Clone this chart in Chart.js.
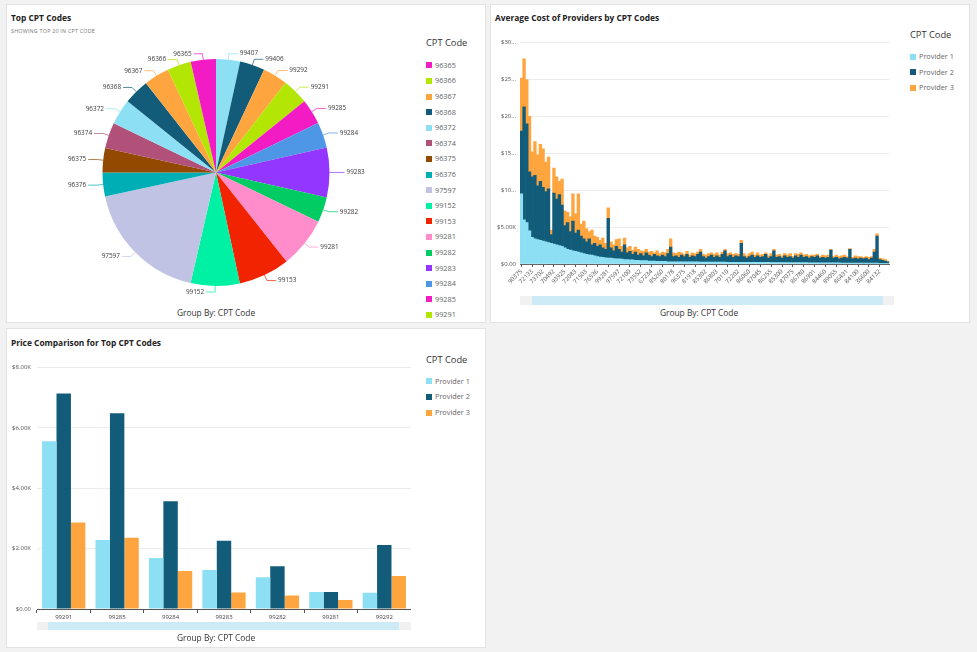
<!DOCTYPE html>
<html>
<head>
<meta charset="utf-8">
<script src="https://cdn.jsdelivr.net/npm/chart.js@4.4.1/dist/chart.umd.min.js"></script>
<style>
body{margin:0;background:#f2f2f2;font-family:'Open Sans',sans-serif;width:977px;height:652px;position:relative;overflow:hidden}
.panel{position:absolute;background:#fff;border:1px solid #e3e3e3;box-sizing:border-box}
.abs{position:absolute;white-space:nowrap}
.title{font-weight:700;font-size:8.4px;color:#222;line-height:12px}
.sub{font-size:5.4px;color:#777;line-height:7px;letter-spacing:.2px}
.lgTitle{font-size:9.3px;color:#333;line-height:12px}
.lgItem{font-size:7.3px;color:#666;height:15.6px;line-height:15.6px}
.sw{display:inline-block;width:6px;height:6px;margin-right:3px;vertical-align:-0.5px}
.groupBy{font-size:8.4px;color:#333;line-height:12px;transform:translateX(-50%)}
.track{position:absolute;background:#f1f1f1}
.thumb{position:absolute;background:#cdebf6}
canvas{position:absolute}
</style>
</head>
<body>
<div class="panel" style="left:6px;top:4px;width:480px;height:319px"></div>
<div class="panel" style="left:490px;top:4px;width:480px;height:319px"></div>
<div class="panel" style="left:6px;top:328px;width:480px;height:320px"></div>

<div class="abs title" style="left:11px;top:12px">Top CPT Codes</div>
<div class="abs sub" style="left:11px;top:28px">SHOWING TOP 20 IN CPT CODE</div>
<div class="abs title" style="left:495px;top:12px">Average Cost of Providers by CPT Codes</div>
<div class="abs title" style="left:11px;top:337px">Price Comparison for Top CPT Codes</div>

<canvas id="pieChart" width="340" height="261" style="left:46px;top:42px;width:340px;height:261px"></canvas>
<canvas id="costChart" width="402" height="259" style="left:492px;top:35px;width:402px;height:259px"></canvas>
<canvas id="priceChart" width="402" height="265" style="left:9px;top:358px;width:402px;height:265px"></canvas>

<div class="abs lgTitle" style="left:426px;top:37px">CPT Code</div>
<div id="pieLegend" class="abs" style="left:426px;top:57.9px;height:263px;overflow:hidden"></div>
<div class="abs lgTitle" style="left:910px;top:29px">CPT Code</div>
<div id="costLegend" class="abs" style="left:910px;top:49.2px"></div>
<div class="abs lgTitle" style="left:426px;top:354px">CPT Code</div>
<div id="priceLegend" class="abs" style="left:426px;top:373.9px"></div>

<div class="track" style="left:520px;top:296px;width:374px;height:9px"></div>
<div class="thumb" style="left:532px;top:296px;width:351px;height:9px"></div>
<div class="track" style="left:37px;top:622px;width:374px;height:8px"></div>
<div class="thumb" style="left:48px;top:622px;width:351px;height:8px"></div>

<div class="abs groupBy" style="left:216px;top:307px">Group By: CPT Code</div>
<div class="abs groupBy" style="left:699px;top:307px">Group By: CPT Code</div>
<div class="abs groupBy" style="left:216px;top:632px">Group By: CPT Code</div>

<script>
// pie: top 20 CPT codes, clockwise from 12 o'clock
const pieCodes = ['99407','99406','99292','99291','99285','99284','99283','99282','99281','99153',
  '99152','97597','96376','96375','96374','96372','96368','96367','96366','96365'];
const pieCounts = [123,128,127,133,130,132,254,130,259,263,251,649,122,124,133,131,131,130,122,129];
const pieColors = ['#8ddff3','#125c79','#ffa53f','#b3e604','#f31bc3','#4e97e6','#9336ff','#00cc63','#ff8dcb','#f22300',
  '#00f0a4','#c1c3e5','#00afb6','#934900','#b15078','#8ddff3','#125c79','#ffa53f','#b3e604','#f31bc3'];

// average cost per CPT code, $K (only every 4th code has a visible tick label)
const costCodes = ['90375','72133','73702','70492','93925','72083','71503','76536','99281','97597','72100','73552',
  '67234','85260','80178','96375','81918','85302','86803','70110','72202','86060','87045','86255','85300','87075',
  '86780','86901','84460','89055','86431','84100','36600','84132'];
const costP1 = [
  9.5,6.0,5.6,4.5, 3.6,3.4,3.3,3.2, 3.1,3.0,2.9,2.8, 2.7,2.6,2.5,2.4, 2.2,2.0,1.9,1.8, 1.7,1.6,1.5,1.4,
  1.3,1.25,1.2,1.1, 1.0,0.95,0.9,0.85, 0.8,0.8,0.75,0.7, 0.7,0.65,0.6,0.6, 0.55,0.55,0.5,0.5, 0.45,0.45,0.45,0.4,
  0.4,0.4,0.35,0.35, 0.35,0.35,0.3,0.3, 0.3,0.3,0.3,0.3, 0.3,0.3,0.28,0.28, 0.28,0.28,0.27,0.27, 0.27,0.26,0.26,0.26,
  0.25,0.25,0.25,0.25, 0.24,0.24,0.24,0.24, 0.23,0.23,0.23,0.23, 0.22,0.22,0.22,0.22, 0.21,0.21,0.21,0.21,
  0.2,0.2,0.2,0.2, 0.2,0.2,0.19,0.19, 0.19,0.19,0.18,0.18, 0.18,0.18,0.17,0.17, 0.17,0.17,0.16,0.16,
  0.16,0.16,0.15,0.15, 0.15,0.15,0.14,0.14, 0.14,0.14,0.13,0.13, 0.13,0.13,0.12,0.12, 0.12,0.12,0.11,0.11,
  0.1,0.1,0.1,0.1];
const costP2 = [
  8.5,15.3,13.4,8.0, 8.2,8.6,7.3,8.0, 7.3,6.8,7.3,1.2, 6.9,6.2,6.9,5.6, 3.0,3.6,2.5,4.0, 2.5,3.0,2.3,2.0,
  1.7,2.15,1.4,1.7, 1.4,1.65,1.3,1.15, 5.4,1.4,1.05,1.7, 1.3,0.95,2.0,0.9, 1.15,0.75,1.1,0.7, 0.95,0.65,1.05,0.8,
  0.6,0.9,0.75,0.65, 0.85,0.65,1.1,2.0, 0.7,0.8,0.6,0.9, 0.7,1.0,0.62,0.82, 0.72,1.02,1.33,0.73, 0.53,0.74,0.94,0.64,
  0.85,0.65,1.05,1.55, 0.76,0.96,0.66,0.86, 0.77,2.57,0.77,0.57, 0.78,0.98,0.68,0.88, 0.69,0.79,1.09,0.59,
  0.8,1.6,0.7,0.8, 0.6,0.9,0.71,0.81, 0.61,0.91,0.72,1.02, 0.72,0.82,0.63,0.83, 0.73,0.93,0.64,0.74,
  0.64,0.74,1.75,0.65, 0.75,0.55,0.66,0.76, 0.66,1.86,0.57,0.67, 0.57,0.67,0.58,0.68, 0.48,0.68,1.49,3.69,
  0.5,0.4,0.3,0.2];
const costP3 = [
  7.2,6.5,6.0,7.5, 3.4,4.6,4.2,5.0, 5.2,4.0,4.3,0.6, 3.4,3.0,1.8,3.5, 2.0,1.4,2.0,3.7, 2.6,4.9,1.6,2.4,
  1.8,1.0,2.0,1.0, 1.2,0.6,1.3,0.8, 1.4,0.8,0.8,0.9, 1.4,0.8,0.9,0.7, 0.7,0.6,0.7,0.8, 0.4,0.6,0.5,0.4,
  0.7,0.2,0.7,0.4, 0.4,0.5,0.6,1.1, 0.5,0.3,0.7,0.3, 0.3,0.4,0.3,0.4, 0.4,0.3,0.4,0.3, 0.4,0.4,0.3,0.4,
  0.4,0.3,0.3,0.2, 0.4,0.3,0.4,0.3, 0.3,0.4,0.4,0.3, 0.4,0.4,0.3,0.4, 0.3,0.3,0.2,0.3,
  0.4,0.2,0.3,0.3, 0.3,0.3,0.3,0.4, 0.2,0.3,0.4,0.3, 0.3,0.3,0.3,0.2, 0.3,0.2,0.2,0.3,
  0.3,0.3,0.1,0.2, 0.3,0.3,0.3,0.3, 0.2,0.1,0.2,0.3, 0.3,0.2,0.2,0.2, 0.3,0.2,0.4,0.3,
  0.2,0.2,0.2,0.1];
const costTicks = ['$0.00','$5.00K','$10...','$15...','$20...','$25...','$30...'];

// price comparison, $
const topCodes = ['99291','99285','99284','99283','99282','99281','99292'];
const priceP1 = [5560,2290,1690,1290,1050,560,540];
const priceP2 = [7140,6490,3570,2260,1420,560,2120];
const priceP3 = [2870,2360,1260,550,450,300,1090];
const priceTicks = ['$0.00','$2.00K','$4.00K','$6.00K','$8.00K'];

const providers = ['Provider 1','Provider 2','Provider 3'];
const provColors = ['#8ddff3','#125c79','#ffa53f'];

Chart.defaults.font.family = "'Open Sans', sans-serif";
Chart.defaults.animation = false;

function makeLegend(id, labels, colors) {
  const box = document.getElementById(id);
  labels.forEach((l, i) => {
    const row = document.createElement('div');
    row.className = 'lgItem';
    row.innerHTML = `<span class="sw" style="background:${colors[i]}"></span>${l}`;
    box.appendChild(row);
  });
}
makeLegend('pieLegend', [...pieCodes].reverse(), [...pieColors].reverse());
makeLegend('costLegend', providers, provColors);
makeLegend('priceLegend', providers, provColors);

// labels outside the pie with leader lines
const pieLabels = {
  id: 'pieLabels',
  afterDatasetsDraw(chart) {
    const ctx = chart.ctx;
    ctx.save();
    ctx.font = "6.4px 'Open Sans'";
    ctx.textBaseline = 'middle';
    chart.getDatasetMeta(0).data.forEach((arc, i) => {
      const p = arc.getProps(['x', 'y', 'startAngle', 'endAngle', 'outerRadius']);
      const mid = (p.startAngle + p.endAngle) / 2;
      const c = Math.cos(mid), s = Math.sin(mid);
      const x0 = p.x + c * p.outerRadius, y0 = p.y + s * p.outerRadius;
      const x1 = p.x + c * (p.outerRadius + 6), y1 = p.y + s * (p.outerRadius + 6);
      const dir = c >= 0 ? 1 : -1;
      const x2 = x1 + dir * 9;
      ctx.globalAlpha = 0.7;
      ctx.strokeStyle = pieColors[i];
      ctx.lineWidth = 1;
      ctx.beginPath();
      ctx.moveTo(x0, y0);
      ctx.lineTo(x1, y1);
      ctx.lineTo(x2, y1);
      ctx.stroke();
      ctx.globalAlpha = 1;
      ctx.fillStyle = '#3a3a3a';
      ctx.textAlign = dir > 0 ? 'left' : 'right';
      ctx.fillText(chart.data.labels[i], x2 + dir * 2, y1);
    });
    ctx.restore();
  }
};

new Chart(document.getElementById('pieChart'), {
  type: 'pie',
  data: {
    labels: pieCodes,
    datasets: [{ data: pieCounts, backgroundColor: pieColors, borderWidth: 0 }]
  },
  options: {
    responsive: false,
    layout: { padding: { left: 56.5, right: 56.5, top: 17, bottom: 17 } },
    plugins: { legend: { display: false }, tooltip: { enabled: false } }
  },
  plugins: [pieLabels]
});

new Chart(document.getElementById('costChart'), {
  type: 'bar',
  data: {
    labels: costCodes.flatMap(c => [c, '', '', '']),
    datasets: [
      { label: providers[0], data: costP1, backgroundColor: provColors[0] },
      { label: providers[1], data: costP2, backgroundColor: provColors[1] },
      { label: providers[2], data: costP3, backgroundColor: provColors[2] }
    ]
  },
  options: {
    responsive: false,
    datasets: { bar: { barPercentage: 1, categoryPercentage: 1, borderWidth: 0 } },
    plugins: { legend: { display: false }, tooltip: { enabled: false } },
    scales: {
      x: {
        stacked: true,
        grid: {
          offset: false, drawOnChartArea: false, tickLength: 3,
          color: c => (c.tick && c.tick.label) ? '#555' : 'rgba(0,0,0,0)'
        },
        border: { color: '#666' },
        ticks: { autoSkip: false, minRotation: 45, maxRotation: 45, padding: 1, font: { size: 6 }, color: '#555' },
        afterFit: s => { s.height = 30; }
      },
      y: {
        stacked: true, min: 0, max: 30,
        ticks: { stepSize: 5, padding: 4, font: { size: 6 }, color: '#555', callback: (v, i) => costTicks[i] },
        grid: { color: '#ebebeb', drawTicks: false },
        border: { display: false },
        afterFit: s => { s.width = 28; }
      }
    }
  }
});

new Chart(document.getElementById('priceChart'), {
  type: 'bar',
  data: {
    labels: topCodes,
    datasets: [
      { label: providers[0], data: priceP1, backgroundColor: provColors[0] },
      { label: providers[1], data: priceP2, backgroundColor: provColors[1] },
      { label: providers[2], data: priceP3, backgroundColor: provColors[2] }
    ]
  },
  options: {
    responsive: false,
    datasets: { bar: { barPercentage: 1, categoryPercentage: 0.81, borderWidth: 0 } },
    plugins: { legend: { display: false }, tooltip: { enabled: false } },
    scales: {
      x: {
        grid: { drawOnChartArea: false, tickLength: 4, color: '#555' },
        border: { color: '#555' },
        ticks: { padding: 1, font: { size: 6 }, color: '#444' },
        afterFit: s => { s.height = 14; }
      },
      y: {
        min: 0, max: 8000,
        ticks: { stepSize: 2000, padding: 6, font: { size: 6 }, color: '#555', callback: (v, i) => priceTicks[i] },
        grid: { color: '#ebebeb', drawTicks: false },
        border: { display: false },
        afterFit: s => { s.width = 28; }
      }
    }
  }
});
</script>
</body>
</html>
